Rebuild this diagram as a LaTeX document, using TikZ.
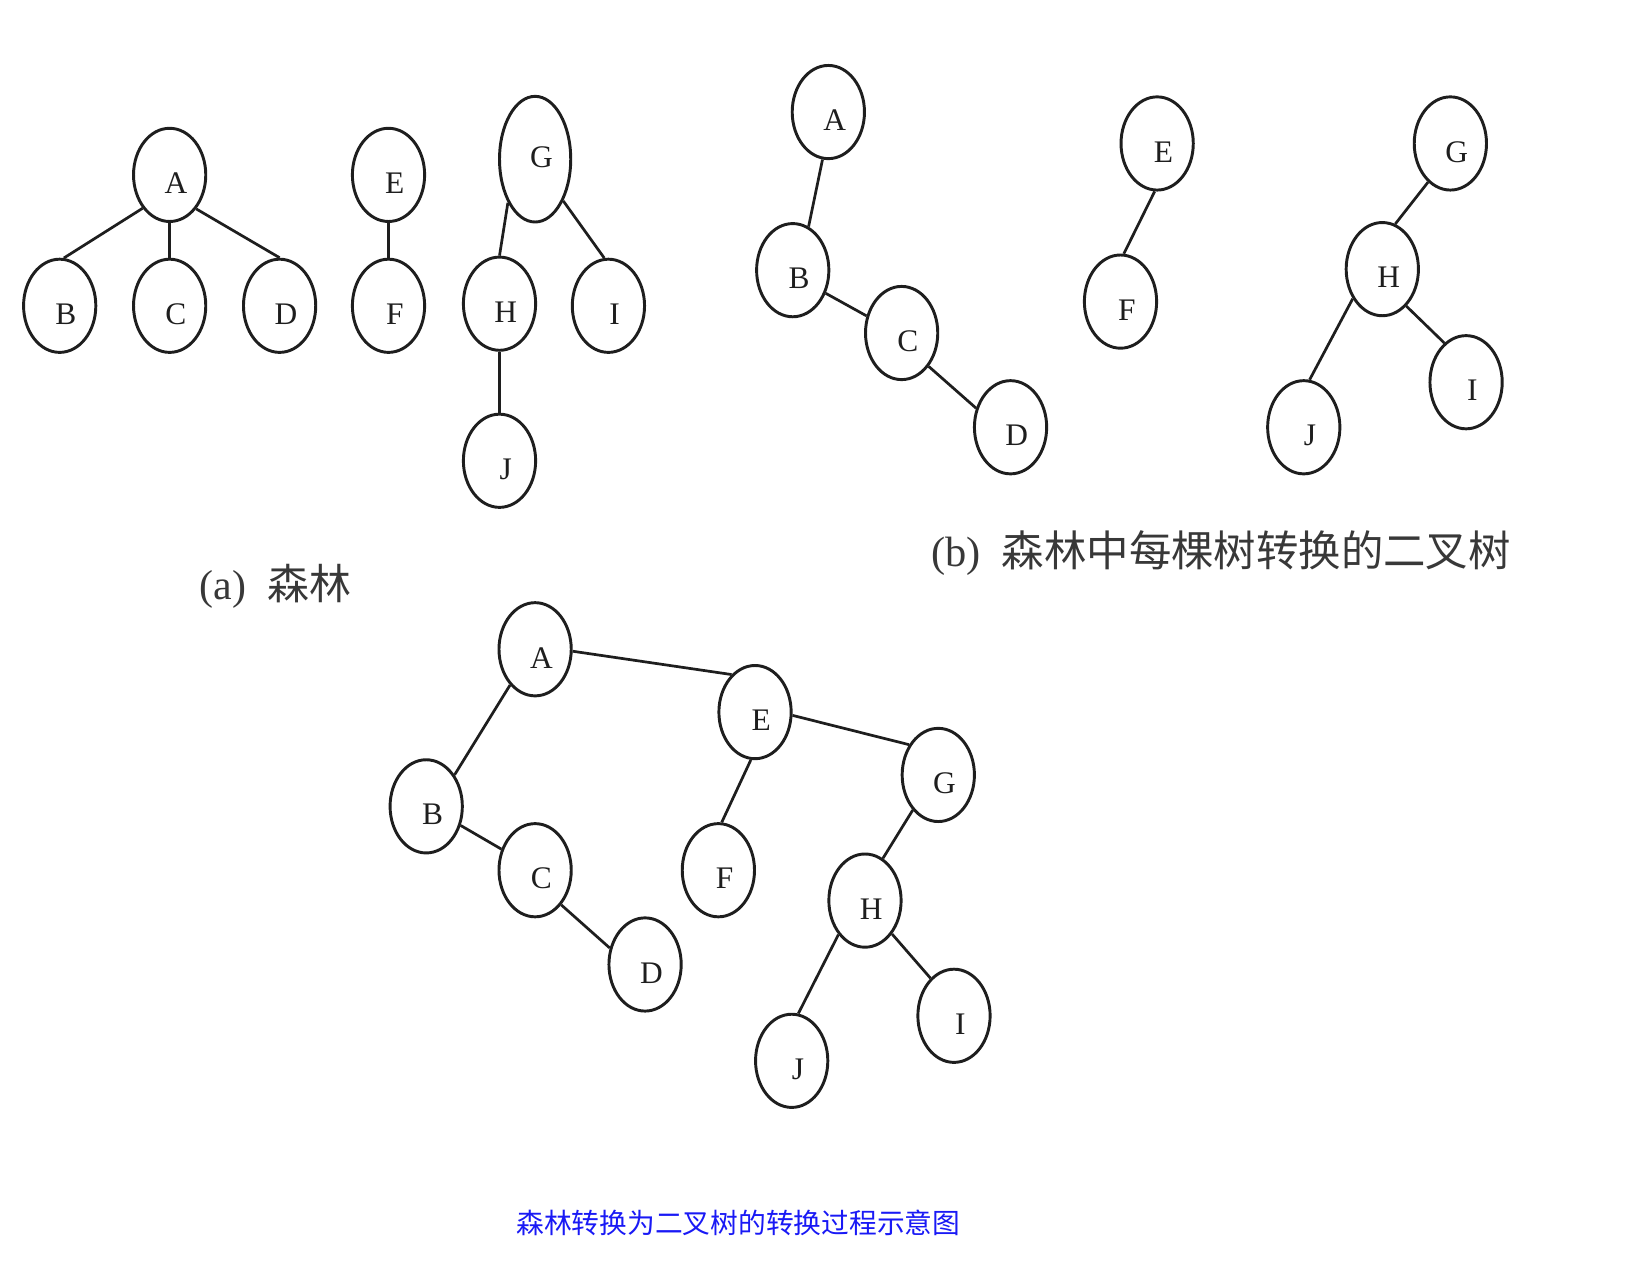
\documentclass[tikz,border=0pt]{standalone}
\usepackage{fontspec}
\setmainfont{Liberation Serif}
\newfontfamily\cjk{Noto Sans CJK SC}
\usetikzlibrary{shapes.geometric}
\definecolor{capblue}{RGB}{25,25,245}
\definecolor{ink}{RGB}{30,30,30}
\begin{document}
\begin{tikzpicture}[x=1pt,y=-1pt,
  base/.style={ellipse, draw=ink, line width=2.8pt, minimum width=69pt, minimum height=89pt, inner sep=0pt},
  lab/.style={font=\fontsize{30}{30}\selectfont, text=ink, inner sep=0pt, shift={(6,8)}},
  tn/.style={base, label={[lab]center:#1}},
  ed/.style={draw=ink, line width=2.6pt},
  capt/.style={text=black!78, inner sep=0pt}]
\path[use as bounding box] (0,0) rectangle (1568,1205);

% ---------- (a) forest ----------
\node[tn=A] (aA) at (162,167) {};
\node[tn=B] (aB) at (57,292) {};
\node[tn=C] (aC) at (162,292) {};
\node[tn=D] (aD) at (267,292) {};
\node[tn=E] (aE) at (371,167) {};
\node[tn=F] (aF) at (371,292) {};
\node[base, minimum width=68pt, minimum height=120pt, label={[lab, shift={(0,-10)}]center:G}] (aG) at (511,152) {};
\node[tn=H] (aH) at (477,290) {};
\node[tn=I] (aI) at (581,292) {};
\node[tn=J] (aJ) at (477,440) {};

\draw[ed] (aA.231) -- (aB.85);
\draw[ed] (aA.south) -- (aC.north);
\draw[ed] (aA.308) -- (aD.north);
\draw[ed] (aE.south) -- (aF.north);
\draw[ed] (aG.238) -- (aH.north);
\draw[ed] (aG.304) -- (aI.95);
\draw[ed] (aH.south) -- (aJ.north);

\node[capt, font=\fontsize{40}{40}\selectfont] (capa) at (263,560) {(a)\hspace{20pt}{\cjk 森林}};

% ---------- (b) binary trees ----------
\node[tn=A] (bA) at (791,107) {};
\node[tn=B] (bB) at (757,258) {};
\node[tn=C] (bC) at (861,318) {};
\node[tn=D] (bD) at (965,408) {};
\node[tn=E] (bE) at (1105,137) {};
\node[tn=F] (bF) at (1070,288) {};
\node[tn=G] (bG) at (1385,137) {};
\node[tn=H] (bH) at (1320,257) {};
\node[tn=I] (bI) at (1400,365) {};
\node[tn=J] (bJ) at (1245,408) {};

\draw[ed] (bA.263) -- (bB.70);
\draw[ed] (bB.325) -- (bC.154);
\draw[ed] (bC.309) -- (bD.151);
\draw[ed] (bE.267) -- (bF.86);
\draw[ed] (bG.240) -- (bH.74);
\draw[ed] (bH.225) -- (bJ.83);
\draw[ed] (bH.303) -- (bI.119);

\node[capt, font=\fontsize{40.5}{40.5}\selectfont] (capb) at (1166,528) {(b)\hspace{20pt}{\cjk 森林中每棵树转换的二叉树}};

% ---------- (c) combined binary tree ----------
\node[tn=A] (cA) at (511,620) {};
\node[tn=E] (cE) at (721,680) {};
\node[tn=B] (cB) at (407,770) {};
\node[tn=C] (cC) at (511,831) {};
\node[tn=D] (cD) at (616,921) {};
\node[tn=F] (cF) at (686,831) {};
\node[tn=G] (cG) at (896,740) {};
\node[tn=H] (cH) at (826,860) {};
\node[tn=I] (cI) at (911,970) {};
\node[tn=J] (cJ) at (756,1013) {};

\draw[ed] (cA.357) -- (cE.122);
\draw[ed] (cA.235) -- (cB.48);
\draw[ed] (cB.331) -- (cC.148);
\draw[ed] (cC.307) -- (cD.155);
\draw[ed] (cE.265) -- (cF.86);
\draw[ed] (cE.355) -- (cG.134);
\draw[ed] (cG.234) -- (cH.67);
\draw[ed] (cH.232) -- (cJ.82);
\draw[ed] (cH.309) -- (cI.122);

\node[text=capblue, inner sep=0pt, font=\cjk\fontsize{26.5}{26.5}\selectfont] (capc) at (705,1168) {森林转换为二叉树的转换过程示意图};
\end{tikzpicture}
\end{document}
